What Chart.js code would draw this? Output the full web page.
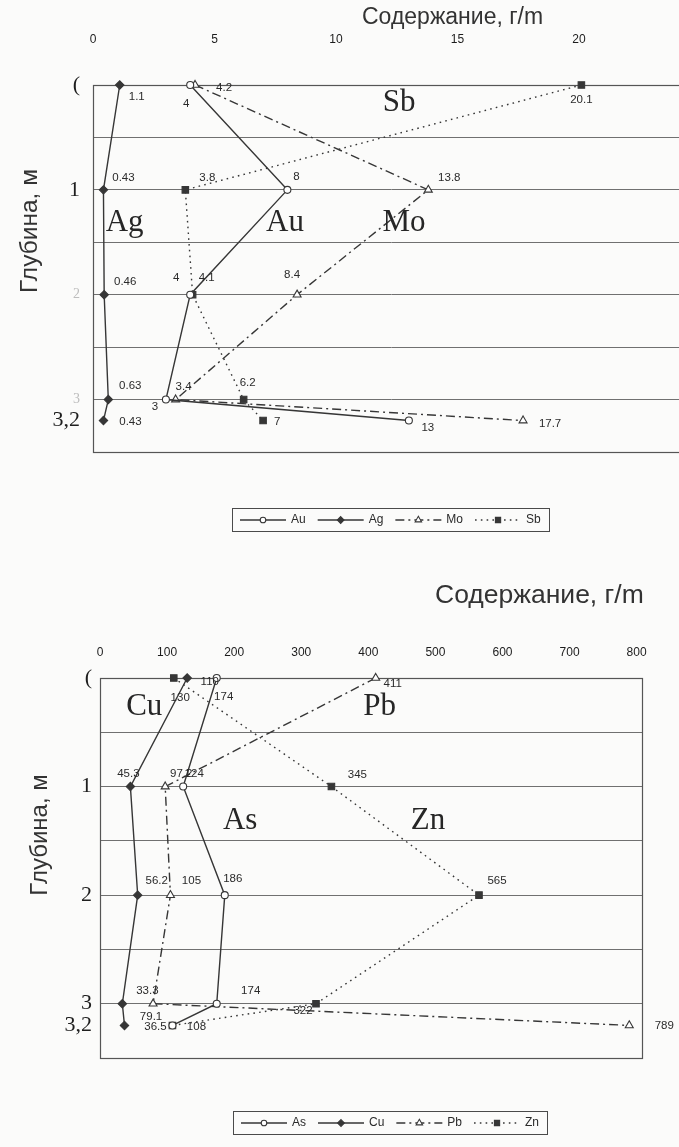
<!DOCTYPE html>
<html>
<head>
<meta charset="utf-8">
<title>Содержание по глубине</title>
<script src="https://cdn.jsdelivr.net/npm/chart.js@4/dist/chart.umd.min.js"></script>
<style>
  html, body { margin: 0; padding: 0; background: #fbfbfa; width: 679px; height: 1147px; overflow: hidden; }
  .panel { position: absolute; left: 0; width: 679px; overflow: hidden; }
  #panelTop { top: 0; height: 570px; }
  #panelBottom { top: 570px; height: 577px; }
  canvas { display: block; }
</style>
</head>
<body>
<div class="panel" id="panelTop"><canvas id="chartTop" width="700" height="570"></canvas></div>
<div class="panel" id="panelBottom"><canvas id="chartBottom" width="679" height="577"></canvas></div>
<script>
// ---- data ----
const depths = [0, 1, 2, 3, 3.2];

// precious metals and molybdenum / antimony, г/т
const au = [4, 8, 4, 3, 13];
const ag = [1.1, 0.43, 0.46, 0.63, 0.43];
const mo = [4.2, 13.8, 8.4, 3.4, 17.7];
const sb = [20.1, 3.8, 4.1, 6.2, 7];

// base metals and arsenic, г/т
const as = [174, 124, 186, 174, 108];
const cu = [130, 45.3, 56.2, 33.3, 36.5];
const pb = [411, 97.2, 105, 79.1, 789];
const zn = [110, 345, 565, 322, 108];

const xTicksTop = [0, 5, 10, 15, 20];
const xTicksBottom = [0, 100, 200, 300, 400, 500, 600, 700, 800];
const depthTicks = [0, 1, 2, 3, 3.2];
const depthLabelsTop = ['(', '1', '2', '3', '3,2'];
const depthLabelsBottom = ['(', '1', '2', '3', '3,2'];
const gridDepths = [0.5, 1, 1.5, 2, 2.5, 3];

const titleX = 'Содержание, г/m';
const titleY = 'Глубина, м';
const namesTop = ['Sb', 'Ag', 'Au', 'Mo'];
const namesBottom = ['Cu', 'Pb', 'As', 'Zn'];

// ---- styling ----
const INK = '#363636';
const SANS = '"Liberation Sans", Arial, sans-serif';
const SERIF = '"Liberation Serif", "Times New Roman", serif';

const LOOK = {
  openCircle: { pointStyle: 'circle', pointRadius: 3.5, pointBackgroundColor: '#fff', borderDash: [] },
  diamond:    { pointStyle: 'rectRot', pointRadius: 4.2, pointBackgroundColor: INK, borderDash: [] },
  triangle:   { pointStyle: 'triangle', pointRadius: 4.6, pointBackgroundColor: '#fff', borderDash: [9, 4, 2, 4] },
  square:     { pointStyle: 'rect', pointRadius: 4.6, pointBackgroundColor: INK, borderDash: [1.6, 4.2] }
};

function series(label, values, look) {
  return Object.assign({
    label: label,
    data: values.map((v, i) => ({ x: v, y: depths[i] })),
    showLine: true, fill: false, tension: 0, clip: false,
    borderColor: INK, borderWidth: 1.4,
    pointBorderColor: INK, pointBorderWidth: 1.1,
    pointHoverRadius: 0
  }, look);
}

// ---- small canvas helpers ----
function marker(ctx, style, x, y, r, fill) {
  ctx.save();
  ctx.setLineDash([]);
  ctx.beginPath();
  if (style === 'circle') {
    ctx.arc(x, y, r, 0, Math.PI * 2);
  } else if (style === 'rect') {
    const s = r * Math.SQRT1_2;
    ctx.rect(x - s, y - s, 2 * s, 2 * s);
  } else if (style === 'rectRot') {
    ctx.moveTo(x, y - r); ctx.lineTo(x + r, y); ctx.lineTo(x, y + r); ctx.lineTo(x - r, y); ctx.closePath();
  } else if (style === 'triangle') {
    ctx.moveTo(x, y - r); ctx.lineTo(x + r * 0.87, y + r * 0.5); ctx.lineTo(x - r * 0.87, y + r * 0.5); ctx.closePath();
  }
  ctx.fillStyle = fill; ctx.fill();
  ctx.lineWidth = 1.1; ctx.strokeStyle = INK; ctx.stroke();
  ctx.restore();
}

// plot frame, drawn under the series
const framePlugin = {
  id: 'frame',
  beforeDatasetsDraw(chart) {
    const a = chart.chartArea, ctx = chart.ctx;
    ctx.save();
    ctx.strokeStyle = '#555'; ctx.lineWidth = 1.2;
    ctx.strokeRect(Math.round(a.left) + 0.5, Math.round(a.top) + 0.5, Math.round(a.right - a.left), Math.round(a.bottom - a.top));
    ctx.restore();
  }
};

// numeric value next to every point
const valueLabelPlugin = {
  id: 'valueLabels',
  afterDatasetsDraw(chart, args, opts) {
    const ctx = chart.ctx;
    ctx.save();
    ctx.font = '11.5px ' + SANS;
    ctx.fillStyle = '#2a2a2a';
    ctx.textAlign = 'center';
    ctx.textBaseline = 'middle';
    chart.data.datasets.forEach((ds, i) => {
      const meta = chart.getDatasetMeta(i);
      meta.data.forEach((pt, j) => {
        const off = opts.offsets[i][j];
        if (!off) return;
        ctx.fillText(String(ds.data[j].x), pt.x + off[0], pt.y + off[1]);
      });
    });
    ctx.restore();
  }
};

// element names placed in data coordinates
const namePlugin = {
  id: 'elementNames',
  afterDatasetsDraw(chart, args, opts) {
    const ctx = chart.ctx, sx = chart.scales.x, sy = chart.scales.y;
    ctx.save();
    ctx.font = '31px ' + SERIF;
    ctx.fillStyle = '#262626';
    ctx.textAlign = 'center';
    ctx.textBaseline = 'middle';
    opts.names.forEach((n, k) => {
      const at = opts.at[k];
      ctx.fillText(n, sx.getPixelForValue(at[0]), sy.getPixelForValue(at[1]));
    });
    ctx.restore();
  }
};

// axis captions
const captionPlugin = {
  id: 'captions',
  afterDraw(chart, args, opts) {
    const ctx = chart.ctx;
    ctx.save();
    ctx.fillStyle = '#333';
    ctx.textBaseline = 'middle';
    ctx.textAlign = 'left';
    ctx.font = opts.xSize + 'px ' + SANS;
    ctx.fillText(titleX, opts.xTitle[0], opts.xTitle[1]);
    ctx.font = opts.ySize + 'px ' + SANS;
    ctx.translate(opts.yTitle[0], opts.yTitle[1]);
    ctx.rotate(-Math.PI / 2);
    ctx.textAlign = 'center';
    ctx.fillText(titleY, 0, 0);
    ctx.restore();
  }
};

// boxed legend with line samples
const boxLegendPlugin = {
  id: 'boxLegend',
  afterDraw(chart, args, opts) {
    const ctx = chart.ctx;
    const sets = chart.data.datasets;
    ctx.save();
    ctx.font = '12px ' + SANS;
    const sample = 46, gapText = 5, gapItem = 12, padX = 8, h = 23;
    const widths = sets.map(ds => sample + gapText + ctx.measureText(ds.label).width);
    const total = widths.reduce((s, w) => s + w, 0) + gapItem * (sets.length - 1) + padX * 2;
    const left = Math.round(opts.cx - total / 2), top = Math.round(opts.cy - h / 2);
    ctx.strokeStyle = '#4a4a4a'; ctx.lineWidth = 1;
    ctx.strokeRect(left + 0.5, top + 0.5, Math.round(total), h);
    let x = left + padX;
    sets.forEach((ds, i) => {
      const y = top + h / 2 + 0.5;
      ctx.beginPath();
      ctx.setLineDash(ds.borderDash || []);
      ctx.strokeStyle = INK; ctx.lineWidth = 1.3;
      ctx.moveTo(x, y); ctx.lineTo(x + sample, y); ctx.stroke();
      ctx.setLineDash([]);
      marker(ctx, ds.pointStyle, x + sample / 2, y, ds.pointRadius * 0.8, ds.pointBackgroundColor);
      ctx.fillStyle = '#2a2a2a';
      ctx.textAlign = 'left'; ctx.textBaseline = 'middle';
      ctx.fillText(ds.label, x + sample + gapText, y);
      x += widths[i] + gapItem;
    });
    ctx.restore();
  }
};

function depthAxis(labels, faint, axisWidth, pad) {
  const isFaint = c => !!(c && c.tick && faint.indexOf(c.tick.value) >= 0);
  return {
    type: 'linear', reverse: true, min: 0, max: 3.5,
    afterBuildTicks: s => {
      const vals = Array.from(new Set(gridDepths.concat(depthTicks))).sort((a, b) => a - b);
      s.ticks = vals.map(v => ({ value: v }));
    },
    afterFit: s => { s.width = axisWidth; },
    border: { display: false },
    grid: {
      drawTicks: false, lineWidth: 1,
      color: c => (c && c.tick && gridDepths.indexOf(c.tick.value) >= 0) ? '#707070' : 'rgba(0,0,0,0)'
    },
    ticks: {
      autoSkip: false, padding: pad,
      font: c => ({ family: SERIF, size: isFaint(c) ? 14 : 22 }),
      color: c => isFaint(c) ? '#bdbdbd' : '#1e1e1e',
      callback: v => { const i = depthTicks.indexOf(v); return i < 0 ? '' : labels[i]; }
    }
  };
}

function valueAxis(ticks, max, axisHeight, pad) {
  return {
    type: 'linear', position: 'top', min: 0, max: max,
    afterBuildTicks: s => { s.ticks = ticks.map(v => ({ value: v })); },
    afterFit: s => { s.height = axisHeight; },
    border: { display: false },
    grid: { display: false },
    ticks: { autoSkip: false, maxRotation: 0, padding: pad, font: { family: SANS, size: 12 }, color: '#1c1c1c' }
  };
}

function build(id, cfg) {
  return new Chart(document.getElementById(id), {
    type: 'scatter',
    data: { datasets: cfg.datasets },
    options: {
      responsive: false, animation: false, devicePixelRatio: 1,
      layout: { padding: cfg.padding },
      plugins: {
        legend: { display: false },
        tooltip: { enabled: false },
        valueLabels: { offsets: cfg.offsets },
        elementNames: { names: cfg.names, at: cfg.namesAt },
        captions: { xTitle: cfg.xTitle, yTitle: cfg.yTitle, xSize: cfg.captionSize[0], ySize: cfg.captionSize[1] },
        boxLegend: { cx: cfg.legend[0], cy: cfg.legend[1] }
      },
      scales: { x: cfg.x, y: cfg.y }
    },
    plugins: [framePlugin, valueLabelPlugin, namePlugin, captionPlugin, boxLegendPlugin]
  });
}

// ---- Au, Ag, Mo, Sb ----
build('chartTop', {
  datasets: [
    series('Au', au, LOOK.openCircle),
    series('Ag', ag, LOOK.diamond),
    series('Mo', mo, LOOK.triangle),
    series('Sb', sb, LOOK.square)
  ],
  padding: { left: 0, top: 0, right: 10, bottom: 118 },
  x: valueAxis(xTicksTop, 24.57, 85, 30),
  y: depthAxis(depthLabelsTop, [2, 3], 93, 13),
  offsets: [
    [[-4, 19], [9, -13], [-14, -17], [-11, 7], [19, 7]],
    [[17, 12], [20, -12], [21, -13], [22, -14], [27, 1]],
    [[29, 3], [21, -12], [-5, -20], [8, -13], [27, 3]],
    [[0, 15], [22, -12], [14, -17], [4, -17], [14, 1]]
  ],
  names: namesTop,
  namesAt: [[12.6, 0.17], [1.3, 1.31], [7.9, 1.31], [12.8, 1.31]],
  xTitle: [362, 18],
  yTitle: [30, 231],
  captionSize: [23, 24.5],
  legend: [390, 519]
});

// ---- As, Cu, Pb, Zn ----
build('chartBottom', {
  datasets: [
    series('As', as, LOOK.openCircle),
    series('Cu', cu, LOOK.diamond),
    series('Pb', pb, LOOK.triangle),
    series('Zn', zn, LOOK.square)
  ],
  padding: { left: 0, top: 0, right: 37, bottom: 89 },
  x: valueAxis(xTicksBottom, 808, 108, 10),
  y: depthAxis(depthLabelsBottom, [], 100, 8),
  offsets: [
    [[7, 19], [11, -13], [8, -16], [34, -13], null],
    [[-7, 20], [-2, -13], [19, -14], [25, -13], [31, 1]],
    [[17, 6], [16, -13], [21, -14], [-2, 13], [35, 0]],
    [[36, 4], [26, -12], [18, -14], [-13, 7], [24, 1]]
  ],
  names: namesBottom,
  namesAt: [[66, 0.27], [417, 0.27], [209, 1.32], [489, 1.32]],
  xTitle: [435, 26],
  yTitle: [40, 265],
  captionSize: [26.5, 24],
  legend: [390, 552]
});
</script>
</body>
</html>
